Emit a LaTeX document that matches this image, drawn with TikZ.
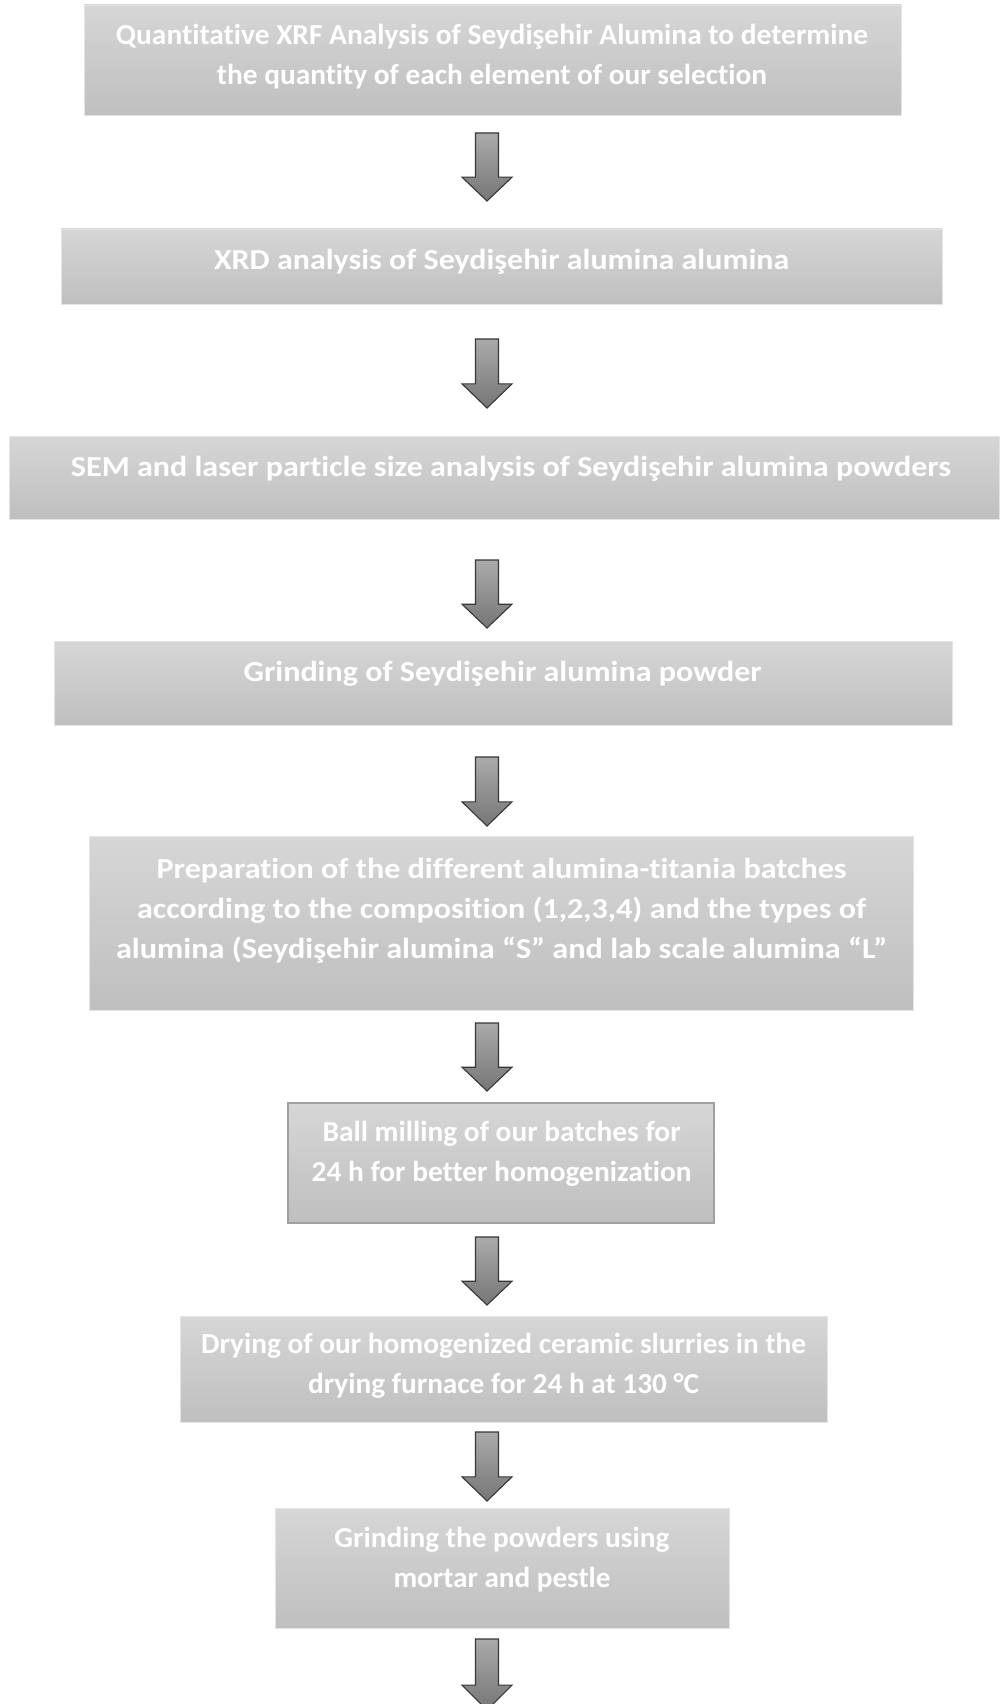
\documentclass[tikz,border=0pt]{standalone}
\usepackage{fontspec}
\setmainfont{Carlito}[Ligatures={NoCommon,NoContextual}, Contextuals=NoAlternate]
\usepackage{graphicx}
\newcommand\boxfont{\fontsize{29}{40}\selectfont\bfseries}
\newcommand\fitline[2]{\resizebox{#1pt}{\height}{#2}}
\definecolor{boxtop}{RGB}{214,214,214}
\definecolor{boxbot}{RGB}{191,191,191}
\definecolor{boxedge}{RGB}{228,228,228}
\definecolor{boxedgedark}{RGB}{160,160,160}
\definecolor{arrtop}{RGB}{170,170,170}
\definecolor{arrbot}{RGB}{118,118,118}
\definecolor{arredge}{RGB}{55,55,55}
\newcommand\blockarrow[4]{% name, x, ytop, ybot
  \coordinate (#1) at (#2,#3);
  \pgfmathsetmacro\hs{#3+0.65*(#4-#3)}
  \draw[arrowshape] ($(#1)+(-11.5,0)$) -- ($(#1)+(11.5,0)$) -- (#2+11.5,\hs) -- (#2+25,\hs) -- (#2,#4) -- (#2-25,\hs) -- (#2-11.5,\hs) -- cycle;
}
\usetikzlibrary{calc}
\begin{document}
\begin{tikzpicture}[x=1pt,y=-1pt,
  flowbox/.style={rectangle, inner sep=0, top color=boxtop, bottom color=boxbot, draw=boxedge, line width=0.8pt},
  darkbox/.style={flowbox, draw=boxedgedark, line width=1.4pt},
  boxtext/.style={text=white, font=\boxfont, align=center, inner sep=0},
  arrowshape/.style={top color=arrtop, bottom color=arrbot, draw=arredge, line width=1.1pt, line join=miter}]
\useasboundingbox[fill=white] (0,0) rectangle (1002,1704);

\node[flowbox, minimum width=817, minimum height=110] (b1) at (492.5,60) {};
\node[boxtext] (t1) at (492,57) {\fitline{752}{Quantitative XRF Analysis of Seydişehir Alumina to determine}\\\fitline{550}{the quantity of each element of our selection}};

\node[flowbox, minimum width=881, minimum height=75] (b2) at (501.5,266.5) {};
\node[boxtext] (t2) at (501.6,262) {\fitline{575}{XRD analysis of Seydişehir alumina alumina}};

\node[flowbox, minimum width=990, minimum height=83] (b3) at (504,477.5) {};
\node[boxtext] (t3) at (511,468.5) {\fitline{880}{SEM and laser particle size analysis of Seydişehir alumina powders}};

\node[flowbox, minimum width=898, minimum height=84] (b4) at (503,683) {};
\node[boxtext] (t4) at (502.6,674) {\fitline{518}{Grinding of Seydişehir alumina powder}};

\node[flowbox, minimum width=824, minimum height=174] (b5) at (501,923) {};
\node[boxtext] (t5) at (501.6,911) {\fitline{690}{Preparation of the different alumina-titania batches}\\\fitline{729}{according to the composition (1,2,3,4) and the types of}\\\fitline{771}{alumina (Seydişehir alumina “S” and lab scale alumina “L”}};

\node[darkbox, minimum width=426, minimum height=120] (b6) at (501,1163) {};
\node[boxtext] (t6) at (501.6,1154) {\fitline{358}{Ball milling of our batches for}\\\fitline{380}{24 h for better homogenization}};

\node[flowbox, minimum width=647, minimum height=106] (b7) at (503.5,1369) {};
\node[boxtext] (t7) at (503.7,1366) {\fitline{605}{Drying of our homogenized ceramic slurries in the}\\\fitline{391}{drying furnace for 24 h at 130 °C}};

\node[flowbox, minimum width=454, minimum height=120] (b8) at (502,1568) {};
\node[boxtext] (t8) at (502,1559.5) {\fitline{335}{Grinding the powders using}\\\fitline{217}{mortar and pestle}};

\blockarrow{a1}{487}{133}{201}
\blockarrow{a2}{487}{339}{408}
\blockarrow{a3}{487}{560}{628}
\blockarrow{a4}{487}{757}{826}
\blockarrow{a5}{487}{1023}{1091}
\blockarrow{a6}{487}{1237}{1305}
\blockarrow{a7}{487}{1432}{1501}
\blockarrow{a8}{487}{1639}{1710}
\end{tikzpicture}
\end{document}
